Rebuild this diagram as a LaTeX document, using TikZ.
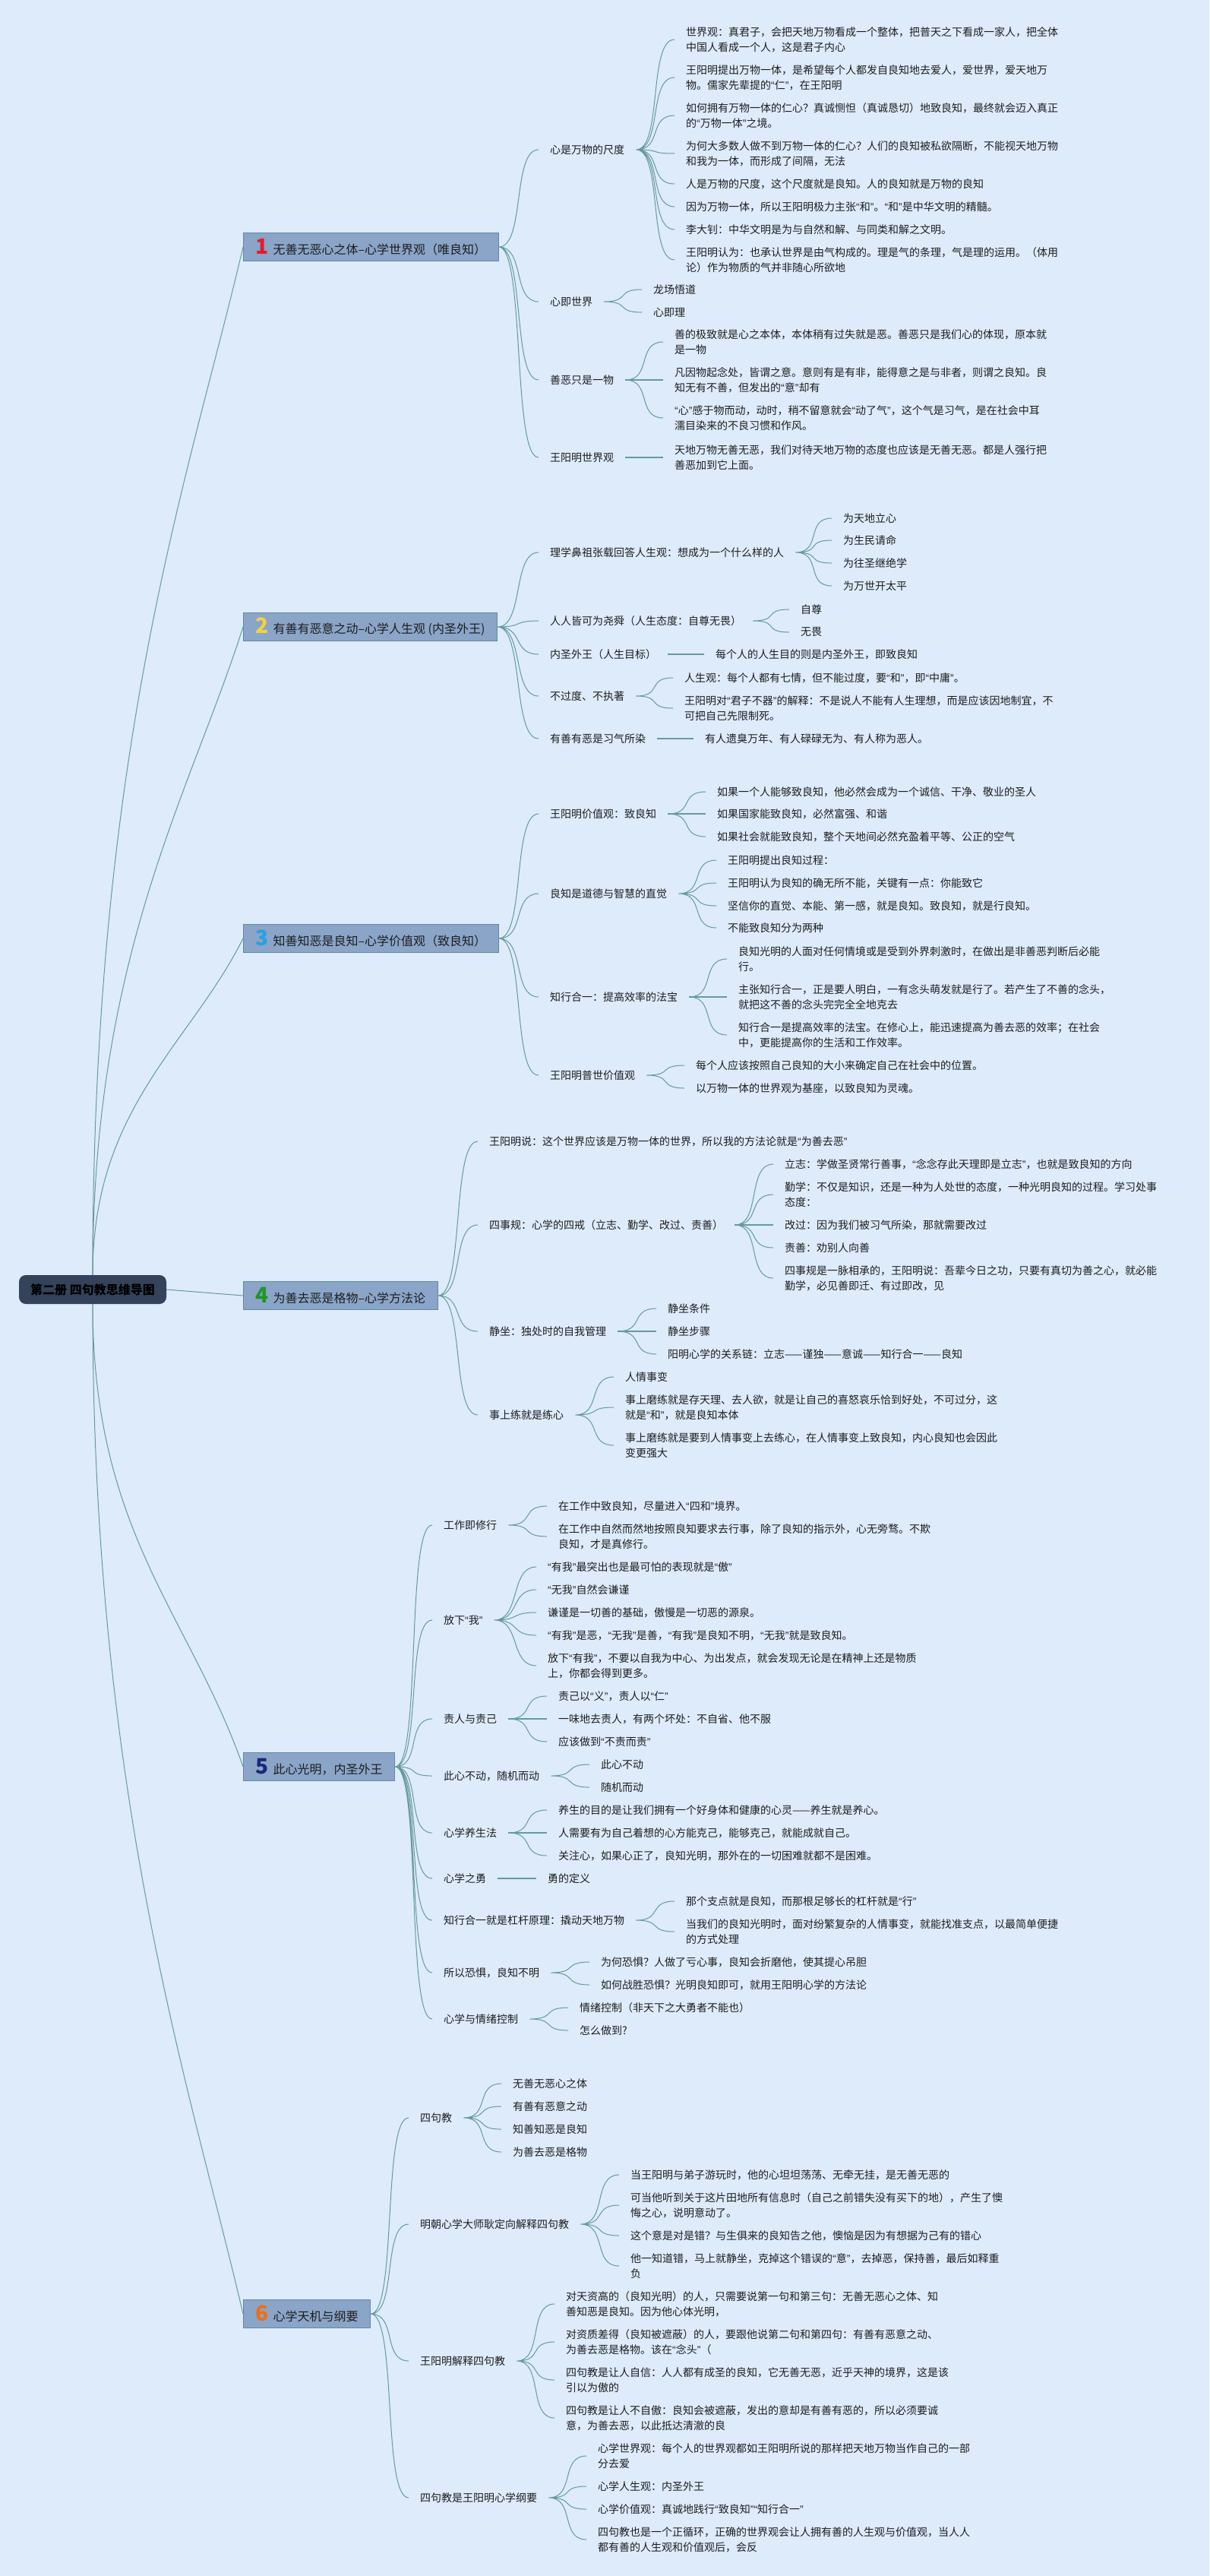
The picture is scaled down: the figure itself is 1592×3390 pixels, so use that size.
\documentclass[tikz,border=0pt]{standalone}
\usepackage{fontspec}
\setmainfont{Noto Sans CJK SC}
\newfontfamily\qfont{Liberation Sans}
\definecolor{bgc}{RGB}{221,235,251}
\definecolor{linec}{RGB}{100,155,155}
\definecolor{boxc}{RGB}{138,165,200}
\definecolor{boxline}{RGB}{95,140,160}
\definecolor{rootc}{RGB}{52,66,90}
\definecolor{txt}{RGB}{30,30,30}
\definecolor{n1}{RGB}{225,30,45}
\definecolor{n2}{RGB}{245,210,55}
\definecolor{n3}{RGB}{40,160,230}
\definecolor{n4}{RGB}{30,150,40}
\definecolor{n5}{RGB}{25,40,120}
\definecolor{n6}{RGB}{240,110,20}
\newcommand{\num}[2]{{\fontsize{28pt}{28pt}\selectfont\bfseries\color{#1}#2}\hspace{6pt}}
\newcommand{\qt}[1]{{\qfont “}#1{\qfont ”}}
\tikzset{
  branch/.style={draw=linec, line width=1pt, to path={.. controls +(35,0) and +(-35,0) .. (\tikztotarget)}},
  mid/.style={line width=2.5pt},
  rootbox/.style={fill=rootc, rounded corners=9pt, minimum width=194pt, minimum height=38pt, font=\fontsize{16pt}{16pt}\selectfont\bfseries, text=black},
  topic/.style={anchor=west, draw=boxline, fill=boxc, line width=1pt, minimum height=37pt, inner xsep=16pt, inner ysep=0pt, font=\fontsize{16pt}{16pt}\selectfont, text=txt},
  leaf/.style={anchor=west, align=left, inner xsep=15pt, inner ysep=2pt, font=\fontsize{14pt}{20pt}\selectfont, text=txt}
}
\begin{document}
\begin{tikzpicture}[x=1pt,y=-1pt]
    \fill[bgc] (0,0) rectangle (1592,3390);
    \useasboundingbox (0,0) rectangle (1592,3390);
    \node[rootbox] (root) at (122,1697) {第二册 四句教思维导图};
    \node[topic] (s1) at (320,325) {\num{n1}{1}无善无恶心之体--心学世界观（唯良知）};
    \node[topic] (s2) at (320,825) {\num{n2}{2}有善有恶意之动--心学人生观 (内圣外王)};
    \node[topic] (s3) at (320,1235) {\num{n3}{3}知善知恶是良知--心学价值观（致良知）};
    \node[topic] (s4) at (320,1705) {\num{n4}{4}为善去恶是格物--心学方法论};
    \node[topic] (s5) at (320,2325) {\num{n5}{5}此心光明，内圣外王};
    \node[topic] (s6) at (320,3045) {\num{n6}{6}心学天机与纲要};
    \draw[branch] (root.north) .. controls +(0,-700) and +(-70,300) .. (s1.west);
    \draw[branch] (root.north) .. controls +(0,-420) and +(-70,220) .. (s2.west);
    \draw[branch] (root.north) .. controls +(0,-220) and +(-70,140) .. (s3.west);
    \draw[branch] (root.east) -- (s4.west);
    \draw[branch] (root.south) .. controls +(0,300) and +(-70,-200) .. (s5.west);
    \draw[branch] (root.south) .. controls +(0,650) and +(-70,-300) .. (s6.west);

    \node[leaf] (s1a) at (709,197) {心是万物的尺度};
    \node[leaf] (s1a1) at (888,52) {世界观：真君子，会把天地万物看成一个整体，把普天之下看成一家人，把全体\\中国人看成一个人，这是君子内心};
    \node[leaf] (s1a2) at (888,102) {王阳明提出万物一体，是希望每个人都发自良知地去爱人，爱世界，爱天地万\\物。儒家先辈提的\qt{仁}，在王阳明};
    \node[leaf] (s1a3) at (888,152) {如何拥有万物一体的仁心？真诚恻怛（真诚恳切）地致良知，最终就会迈入真正\\的\qt{万物一体}之境。};
    \node[leaf] (s1a4) at (888,202) {为何大多数人做不到万物一体的仁心？人们的良知被私欲隔断，不能视天地万物\\和我为一体，而形成了间隔，无法};
    \node[leaf] (s1a5) at (888,242) {人是万物的尺度，这个尺度就是良知。人的良知就是万物的良知};
    \node[leaf] (s1a6) at (888,272) {因为万物一体，所以王阳明极力主张\qt{和}。\qt{和}是中华文明的精髓。};
    \node[leaf] (s1a7) at (888,302) {李大钊：中华文明是为与自然和解、与同类和解之文明。};
    \node[leaf] (s1a8) at (888,342) {王阳明认为：也承认世界是由气构成的。理是气的条理，气是理的运用。（体用\\论）作为物质的气并非随心所欲地};
    \node[leaf] (s1b) at (709,397) {心即世界};
    \node[leaf] (s1b1) at (845,381) {龙场悟道};
    \node[leaf] (s1b2) at (845,411) {心即理};
    \node[leaf] (s1c) at (709,500) {善恶只是一物};
    \node[leaf] (s1c1) at (873,450) {善的极致就是心之本体，本体稍有过失就是恶。善恶只是我们心的体现，原本就\\是一物};
    \node[leaf] (s1c2) at (873,500) {凡因物起念处，皆谓之意。意则有是有非，能得意之是与非者，则谓之良知。良\\知无有不善，但发出的\qt{意}却有};
    \node[leaf] (s1c3) at (873,550) {\qt{心}感于物而动，动时，稍不留意就会\qt{动了气}，这个气是习气，是在社会中耳\\濡目染来的不良习惯和作风。};
    \node[leaf] (s1d) at (709,602) {王阳明世界观};
    \node[leaf] (s1d1) at (873,602) {天地万物无善无恶，我们对待天地万物的态度也应该是无善无恶。都是人强行把\\善恶加到它上面。};
    \draw[branch] (s1.east) to (s1a.west) (s1.east) to (s1b.west) (s1.east) to (s1c.west) (s1.east) to (s1d.west);
    \draw[branch] (s1a.east) to (s1a1.west) (s1a.east) to (s1a2.west) (s1a.east) to (s1a3.west) (s1a.east) to (s1a4.west)
        (s1a.east) to (s1a5.west) (s1a.east) to (s1a6.west) (s1a.east) to (s1a7.west) (s1a.east) to (s1a8.west);
    \draw[branch] (s1b.east) to (s1b1.west) (s1b.east) to (s1b2.west);
    \draw[branch] (s1c.east) to (s1c1.west) (s1c.east) to (s1c3.west);
    \draw[branch,mid] (s1c.east) to (s1c2.west);
    \draw[branch,mid] (s1d.east) to (s1d1.west);

    \node[leaf] (s2a) at (709,727) {理学鼻祖张载回答人生观：想成为一个什么样的人};
    \node[leaf] (s2a1) at (1095,682) {为天地立心};
    \node[leaf] (s2a2) at (1095,711) {为生民请命};
    \node[leaf] (s2a3) at (1095,741) {为往圣继绝学};
    \node[leaf] (s2a4) at (1095,771) {为万世开太平};
    \node[leaf] (s2b) at (709,817) {人人皆可为尧舜（人生态度：自尊无畏）};
    \node[leaf] (s2b1) at (1039,802) {自尊};
    \node[leaf] (s2b2) at (1039,832) {无畏};
    \node[leaf] (s2c) at (709,861) {内圣外王（人生目标）};
    \node[leaf] (s2c1) at (927,861) {每个人的人生目的则是内圣外王，即致良知};
    \node[leaf] (s2d) at (709,916) {不过度、不执著};
    \node[leaf] (s2d1) at (886,892) {人生观：每个人都有七情，但不能过度，要\qt{和}，即\qt{中庸}。};
    \node[leaf] (s2d2) at (886,932) {王阳明对\qt{君子不器}的解释：不是说人不能有人生理想，而是应该因地制宜，不\\可把自己先限制死。};
    \node[leaf] (s2e) at (709,972) {有善有恶是习气所染};
    \node[leaf] (s2e1) at (913,972) {有人遗臭万年、有人碌碌无为、有人称为恶人。};
    \draw[branch] (s2.east) to (s2a.west) (s2.east) to (s2b.west) (s2.east) to (s2c.west) (s2.east) to (s2d.west) (s2.east) to (s2e.west);
    \draw[branch] (s2a.east) to (s2a1.west) (s2a.east) to (s2a2.west) (s2a.east) to (s2a3.west) (s2a.east) to (s2a4.west);
    \draw[branch] (s2b.east) to (s2b1.west) (s2b.east) to (s2b2.west);
    \draw[branch,mid] (s2c.east) to (s2c1.west);
    \draw[branch] (s2d.east) to (s2d1.west) (s2d.east) to (s2d2.west);
    \draw[branch,mid] (s2e.east) to (s2e1.west);

    \node[leaf] (s3a) at (709,1071) {王阳明价值观：致良知};
    \node[leaf] (s3a1) at (929,1042) {如果一个人能够致良知，他必然会成为一个诚信、干净、敬业的圣人};
    \node[leaf] (s3a2) at (929,1071) {如果国家能致良知，必然富强、和谐};
    \node[leaf] (s3a3) at (929,1101) {如果社会就能致良知，整个天地间必然充盈着平等、公正的空气};
    \node[leaf] (s3b) at (709,1176) {良知是道德与智慧的直觉};
    \node[leaf] (s3b1) at (943,1132) {王阳明提出良知过程：};
    \node[leaf] (s3b2) at (943,1162) {王阳明认为良知的确无所不能，关键有一点：你能致它};
    \node[leaf] (s3b3) at (943,1192) {坚信你的直觉、本能、第一感，就是良知。致良知，就是行良知。};
    \node[leaf] (s3b4) at (943,1221) {不能致良知分为两种};
    \node[leaf] (s3c) at (709,1312) {知行合一：提高效率的法宝};
    \node[leaf] (s3c1) at (957,1262) {良知光明的人面对任何情境或是受到外界刺激时，在做出是非善恶判断后必能\\行。};
    \node[leaf] (s3c2) at (957,1312) {主张知行合一，正是要人明白，一有念头萌发就是行了。若产生了不善的念头，\\就把这不善的念头完完全全地克去};
    \node[leaf] (s3c3) at (957,1362) {知行合一是提高效率的法宝。在修心上，能迅速提高为善去恶的效率；在社会\\中，更能提高你的生活和工作效率。};
    \node[leaf] (s3d) at (709,1415) {王阳明普世价值观};
    \node[leaf] (s3d1) at (901,1402) {每个人应该按照自己良知的大小来确定自己在社会中的位置。};
    \node[leaf] (s3d2) at (901,1432) {以万物一体的世界观为基座，以致良知为灵魂。};
    \draw[branch] (s3.east) to (s3a.west) (s3.east) to (s3b.west) (s3.east) to (s3c.west) (s3.east) to (s3d.west);
    \draw[branch] (s3a.east) to (s3a1.west) (s3a.east) to (s3a3.west);
    \draw[branch,mid] (s3a.east) to (s3a2.west);
    \draw[branch] (s3b.east) to (s3b1.west) (s3b.east) to (s3b2.west) (s3b.east) to (s3b3.west) (s3b.east) to (s3b4.west);
    \draw[branch] (s3c.east) to (s3c1.west) (s3c.east) to (s3c3.west);
    \draw[branch,mid] (s3c.east) to (s3c2.west);
    \draw[branch] (s3d.east) to (s3d1.west) (s3d.east) to (s3d2.west);

    \node[leaf] (s4a) at (629,1502) {王阳明说：这个世界应该是万物一体的世界，所以我的方法论就是\qt{为善去恶}};
    \node[leaf] (s4b) at (629,1612) {四事规：心学的四戒（立志、勤学、改过、责善）};
    \node[leaf] (s4b1) at (1018,1532) {立志：学做圣贤常行善事，\qt{念念存此天理即是立志}，也就是致良知的方向};
    \node[leaf] (s4b2) at (1018,1572) {勤学：不仅是知识，还是一种为人处世的态度，一种光明良知的过程。学习处事\\态度：};
    \node[leaf] (s4b3) at (1018,1612) {改过：因为我们被习气所染，那就需要改过};
    \node[leaf] (s4b4) at (1018,1642) {责善：劝别人向善};
    \node[leaf] (s4b5) at (1018,1682) {四事规是一脉相承的，王阳明说：吾辈今日之功，只要有真切为善之心，就必能\\勤学，必见善即迁、有过即改，见};
    \node[leaf] (s4c) at (629,1752) {静坐：独处时的自我管理};
    \node[leaf] (s4c1) at (864,1722) {静坐条件};
    \node[leaf] (s4c2) at (864,1752) {静坐步骤};
    \node[leaf] (s4c3) at (864,1782) {阳明心学的关系链：立志——谨独——意诚——知行合一——良知};
    \node[leaf] (s4d) at (629,1862) {事上练就是练心};
    \node[leaf] (s4d1) at (808,1812) {人情事变};
    \node[leaf] (s4d2) at (808,1852) {事上磨练就是存天理、去人欲，就是让自己的喜怒哀乐恰到好处，不可过分，这\\就是\qt{和}，就是良知本体};
    \node[leaf] (s4d3) at (808,1902) {事上磨练就是要到人情事变上去练心，在人情事变上致良知，内心良知也会因此\\变更强大};
    \draw[branch] (s4.east) to (s4a.west) (s4.east) to (s4b.west) (s4.east) to (s4c.west) (s4.east) to (s4d.west);
    \draw[branch] (s4b.east) to (s4b1.west) (s4b.east) to (s4b2.west) (s4b.east) to (s4b4.west) (s4b.east) to (s4b5.west);
    \draw[branch,mid] (s4b.east) to (s4b3.west);
    \draw[branch] (s4c.east) to (s4c1.west) (s4c.east) to (s4c3.west);
    \draw[branch,mid] (s4c.east) to (s4c2.west);
    \draw[branch] (s4d.east) to (s4d1.west) (s4d.east) to (s4d2.west) (s4d.east) to (s4d3.west);

    \node[leaf] (s5a) at (569,2007) {工作即修行};
    \node[leaf] (s5a1) at (720,1982) {在工作中致良知，尽量进入\qt{四和}境界。};
    \node[leaf] (s5a2) at (720,2022) {在工作中自然而然地按照良知要求去行事，除了良知的指示外，心无旁骛。不欺\\良知，才是真修行。};
    \node[leaf] (s5b) at (569,2132) {放下\qt{我}};
    \node[leaf] (s5b1) at (706,2062) {\qt{有我}最突出也是最可怕的表现就是\qt{傲}};
    \node[leaf] (s5b2) at (706,2092) {\qt{无我}自然会谦谨};
    \node[leaf] (s5b3) at (706,2122) {谦谨是一切善的基础，傲慢是一切恶的源泉。};
    \node[leaf] (s5b4) at (706,2152) {\qt{有我}是恶，\qt{无我}是善，\qt{有我}是良知不明，\qt{无我}就是致良知。};
    \node[leaf] (s5b5) at (706,2192) {放下\qt{有我}，不要以自我为中心、为出发点，就会发现无论是在精神上还是物质\\上，你都会得到更多。};
    \node[leaf] (s5c) at (569,2262) {责人与责己};
    \node[leaf] (s5c1) at (720,2232) {责己以\qt{义}，责人以\qt{仁}};
    \node[leaf] (s5c2) at (720,2262) {一味地去责人，有两个坏处：不自省、他不服};
    \node[leaf] (s5c3) at (720,2292) {应该做到\qt{不责而责}};
    \node[leaf] (s5d) at (569,2337) {此心不动，随机而动};
    \node[leaf] (s5d1) at (776,2322) {此心不动};
    \node[leaf] (s5d2) at (776,2352) {随机而动};
    \node[leaf] (s5e) at (569,2412) {心学养生法};
    \node[leaf] (s5e1) at (720,2382) {养生的目的是让我们拥有一个好身体和健康的心灵——养生就是养心。};
    \node[leaf] (s5e2) at (720,2412) {人需要有为自己着想的心方能克己，能够克己，就能成就自己。};
    \node[leaf] (s5e3) at (720,2442) {关注心，如果心正了，良知光明，那外在的一切困难就都不是困难。};
    \node[leaf] (s5f) at (569,2472) {心学之勇};
    \node[leaf] (s5f1) at (706,2472) {勇的定义};
    \node[leaf] (s5g) at (569,2527) {知行合一就是杠杆原理：撬动天地万物};
    \node[leaf] (s5g1) at (888,2502) {那个支点就是良知，而那根足够长的杠杆就是\qt{行}};
    \node[leaf] (s5g2) at (888,2542) {当我们的良知光明时，面对纷繁复杂的人情事变，就能找准支点，以最简单便捷\\的方式处理};
    \node[leaf] (s5h) at (569,2596) {所以恐惧，良知不明};
    \node[leaf] (s5h1) at (776,2582) {为何恐惧？人做了亏心事，良知会折磨他，使其提心吊胆};
    \node[leaf] (s5h2) at (776,2612) {如何战胜恐惧？光明良知即可，就用王阳明心学的方法论};
    \node[leaf] (s5i) at (569,2657) {心学与情绪控制};
    \node[leaf] (s5i1) at (748,2642) {情绪控制（非天下之大勇者不能也）};
    \node[leaf] (s5i2) at (748,2672) {怎么做到?};
    \draw[branch] (s5.east) to (s5a.west) (s5.east) to (s5b.west) (s5.east) to (s5c.west) (s5.east) to (s5d.west) (s5.east) to (s5e.west)
        (s5.east) to (s5f.west) (s5.east) to (s5g.west) (s5.east) to (s5h.west) (s5.east) to (s5i.west);
    \draw[branch] (s5a.east) to (s5a1.west) (s5a.east) to (s5a2.west);
    \draw[branch] (s5b.east) to (s5b1.west) (s5b.east) to (s5b2.west) (s5b.east) to (s5b3.west) (s5b.east) to (s5b4.west) (s5b.east) to (s5b5.west);
    \draw[branch] (s5c.east) to (s5c1.west) (s5c.east) to (s5c3.west);
    \draw[branch,mid] (s5c.east) to (s5c2.west);
    \draw[branch] (s5d.east) to (s5d1.west) (s5d.east) to (s5d2.west);
    \draw[branch] (s5e.east) to (s5e1.west) (s5e.east) to (s5e3.west);
    \draw[branch,mid] (s5e.east) to (s5e2.west);
    \draw[branch,mid] (s5f.east) to (s5f1.west);
    \draw[branch] (s5g.east) to (s5g1.west) (s5g.east) to (s5g2.west);
    \draw[branch] (s5h.east) to (s5h1.west) (s5h.east) to (s5h2.west);
    \draw[branch] (s5i.east) to (s5i1.west) (s5i.east) to (s5i2.west);

    \node[leaf] (s6a) at (538,2787) {四句教};
    \node[leaf] (s6a1) at (660,2742) {无善无恶心之体};
    \node[leaf] (s6a2) at (660,2772) {有善有恶意之动};
    \node[leaf] (s6a3) at (660,2802) {知善知恶是良知};
    \node[leaf] (s6a4) at (660,2832) {为善去恶是格物};
    \node[leaf] (s6b) at (538,2927) {明朝心学大师耿定向解释四句教};
    \node[leaf] (s6b1) at (815,2862) {当王阳明与弟子游玩时，他的心坦坦荡荡、无牵无挂，是无善无恶的};
    \node[leaf] (s6b2) at (815,2902) {可当他听到关于这片田地所有信息时（自己之前错失没有买下的地），产生了懊\\悔之心，说明意动了。};
    \node[leaf] (s6b3) at (815,2942) {这个意是对是错？与生俱来的良知告之他，懊恼是因为有想据为己有的错心};
    \node[leaf] (s6b4) at (815,2982) {他一知道错，马上就静坐，克掉这个错误的\qt{意}，去掉恶，保持善，最后如释重\\负};
    \node[leaf] (s6c) at (538,3107) {王阳明解释四句教};
    \node[leaf] (s6c1) at (730,3032) {对天资高的（良知光明）的人，只需要说第一句和第三句：无善无恶心之体、知\\善知恶是良知。因为他心体光明，};
    \node[leaf] (s6c2) at (730,3082) {对资质差得（良知被遮蔽）的人，要跟他说第二句和第四句：有善有恶意之动、\\为善去恶是格物。该在\qt{念头}（};
    \node[leaf] (s6c3) at (730,3132) {四句教是让人自信：人人都有成圣的良知，它无善无恶，近乎天神的境界，这是该\\引以为傲的};
    \node[leaf] (s6c4) at (730,3182) {四句教是让人不自傲：良知会被遮蔽，发出的意却是有善有恶的，所以必须要诚\\意，为善去恶，以此抵达清澈的良};
    \node[leaf] (s6d) at (538,3287) {四句教是王阳明心学纲要};
    \node[leaf] (s6d1) at (772,3232) {心学世界观：每个人的世界观都如王阳明所说的那样把天地万物当作自己的一部\\分去爱};
    \node[leaf] (s6d2) at (772,3272) {心学人生观：内圣外王};
    \node[leaf] (s6d3) at (772,3302) {心学价值观：真诚地践行\qt{致良知}\qt{知行合一}};
    \node[leaf] (s6d4) at (772,3342) {四句教也是一个正循环，正确的世界观会让人拥有善的人生观与价值观，当人人\\都有善的人生观和价值观后，会反};
    \draw[branch] (s6.east) to (s6a.west) (s6.east) to (s6b.west) (s6.east) to (s6c.west) (s6.east) to (s6d.west);
    \draw[branch] (s6a.east) to (s6a1.west) (s6a.east) to (s6a2.west) (s6a.east) to (s6a3.west) (s6a.east) to (s6a4.west);
    \draw[branch] (s6b.east) to (s6b1.west) (s6b.east) to (s6b2.west) (s6b.east) to (s6b3.west) (s6b.east) to (s6b4.west);
    \draw[branch] (s6c.east) to (s6c1.west) (s6c.east) to (s6c2.west) (s6c.east) to (s6c3.west) (s6c.east) to (s6c4.west);
    \draw[branch] (s6d.east) to (s6d1.west) (s6d.east) to (s6d2.west) (s6d.east) to (s6d3.west) (s6d.east) to (s6d4.west);
\end{tikzpicture}
\end{document}
